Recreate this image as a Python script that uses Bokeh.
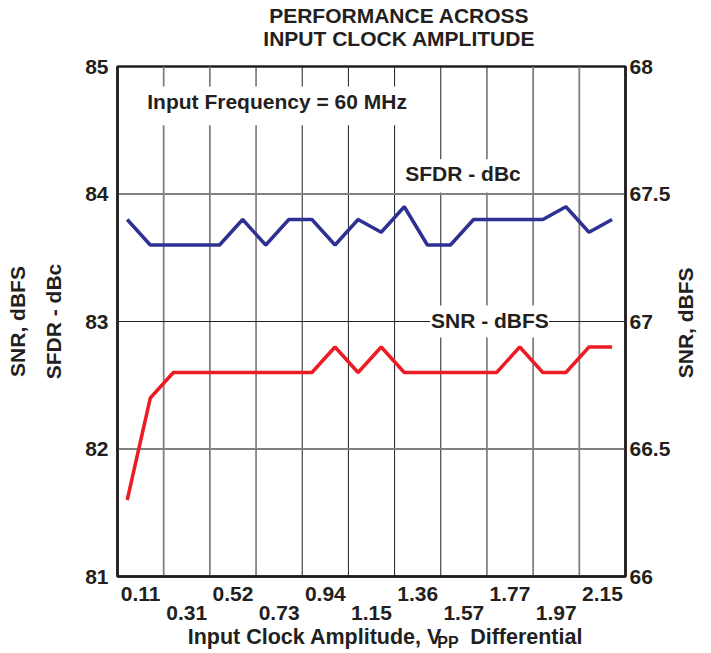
from math import pi
from bokeh.plotting import figure
from bokeh.models import (Range1d, LinearAxis, FixedTicker, Span, Label, BoxAnnotation)
from bokeh.embed import file_html
from bokeh.resources import INLINE

# ---------------- data ----------------
point_index = list(range(22))
sfdr_dbc = [83.8, 83.6, 83.6, 83.6, 83.6, 83.8, 83.6, 83.8, 83.8, 83.6, 83.8,
            83.7, 83.9, 83.6, 83.6, 83.8, 83.8, 83.8, 83.8, 83.9, 83.7, 83.8]
snr_dbfs = [66.3, 66.7, 66.8, 66.8, 66.8, 66.8, 66.8, 66.8, 66.8, 66.9, 66.8,
            66.9, 66.8, 66.8, 66.8, 66.8, 66.8, 66.9, 66.8, 66.8, 66.9, 66.9]
x_tick_labels = ["0.11", "0.31", "0.52", "0.73", "0.94", "1.15",
                 "1.36", "1.57", "1.77", "1.97", "2.15"]
left_ticks = [81, 82, 83, 84, 85]
right_ticks = [66, 66.5, 67, 67.5, 68]

# ---------------- layout helpers ----------------
FONT = "Liberation Sans"
INK = "#231f20"
BLUE = "#2e3192"
RED = "#ed1c24"
GRAY = "#808080"

XS, XE = -0.42, 21.58
YS, YE = 81, 85
L, R, T, B = 117, 629, 66, 578   # frame edges in page pixels
W, H = 711, 653


def X(px):
    return XS + (px - L) * (XE - XS) / (R - L)


def Y(py):
    return YE - (py - T) * (YE - YS) / (B - T)


p = figure(width=W, height=H, x_range=Range1d(XS, XE), y_range=Range1d(YS, YE),
           output_backend="svg", toolbar_location=None,
           min_border_left=L, min_border_right=W - R, min_border_top=T, min_border_bottom=H - B)
p.extra_y_ranges = {"snr": Range1d(66, 68)}
p.xgrid.visible = False
p.ygrid.visible = False
p.outline_line_color = INK
p.outline_line_width = 2.5
p.background_fill_color = "white"
p.border_fill_color = "white"

# the figure's own axes, taken before any other axis is added
bx = p.below[0]
ly = p.left[0]


def style_axis(ax, standoff, size="21px", line=True):
    ax.major_tick_in = 0
    ax.major_tick_out = 0
    ax.minor_tick_in = 0
    ax.minor_tick_out = 0
    if line:
        ax.axis_line_color = INK
        ax.axis_line_width = 2.5
    else:
        ax.axis_line_color = None
    ax.major_label_text_font = FONT
    ax.major_label_text_font_style = "bold"
    ax.major_label_text_font_size = size
    ax.major_label_text_color = INK
    ax.major_label_standoff = standoff
    ax.axis_label_text_font = FONT
    ax.axis_label_text_font_style = "bold"
    ax.axis_label_text_font_size = "21px"
    ax.axis_label_text_color = INK


def text_axis(loc, ticks, texts, standoff, size="21px", y_range_name=None, orientation=None):
    kw = {} if y_range_name is None else {"y_range_name": y_range_name}
    ax = LinearAxis(ticker=FixedTicker(ticks=ticks), **kw)
    ax.major_label_overrides = dict(zip(ticks, texts))
    style_axis(ax, standoff, size=size, line=False)
    if orientation is not None:
        ax.major_label_orientation = orientation
    p.add_layout(ax, loc)
    return ax


# ---- left axes ----
ly.ticker = FixedTicker(ticks=left_ticks)
style_axis(ly, 9)
ly.axis_label = "SFDR - dBc"
ly.axis_label_standoff = 17

ly2 = LinearAxis(ticker=FixedTicker(ticks=[]))
style_axis(ly2, 0, line=False)
ly2.axis_label = "SNR, dBFS"
ly2.axis_label_standoff = 11
p.add_layout(ly2, "left")

# ---- bottom: two staggered rows of tick labels ----
centres = [XS + 1 + 2 * i for i in range(len(x_tick_labels))]
bx.ticker = FixedTicker(ticks=[c for i, c in enumerate(centres) if i % 2 == 0])
bx.major_label_overrides = {c: x_tick_labels[i] for i, c in enumerate(centres) if i % 2 == 0}
style_axis(bx, 10)

text_axis("below", [c for i, c in enumerate(centres) if i % 2 == 1],
          [x_tick_labels[i] for i in range(len(x_tick_labels)) if i % 2 == 1], 2)

# ---- x axis title: "Input Clock Amplitude, V" + subscript "PP" + "Differential" ----
text_axis("below", [X(450)], ["PP"], 11, size="16px")
text_axis("below", [X(316), X(529)], ["Input Clock Amplitude, V", "Differential"], -29,
          size="21.5px")

# ---- two-line chart title (first added sits closest to the plot) ----
t_title = [X(401)]
text_axis("above", t_title, ["INPUT CLOCK AMPLITUDE"], 17)
text_axis("above", t_title, ["PERFORMANCE ACROSS"], -3)

# ---- right axes ----
ry = LinearAxis(y_range_name="snr", ticker=FixedTicker(ticks=right_ticks))
style_axis(ry, 4)
p.add_layout(ry, "right")
# right-hand title, reading bottom-to-top like the left ones
text_axis("right", [Y(379)], ["SNR, dBFS"], 12, orientation=pi / 2)

# ---- grid lines ----
for i in range(10):
    xb = XS + 2 * (i + 1)
    gray = i in (0, 1, 8, 9)
    p.add_layout(Span(location=xb, dimension="height", line_color=GRAY if gray else INK,
                      line_width=1.8 if gray else 1.0, level="underlay"))
for yv, gray in ((82, True), (83, False), (84, True)):
    p.add_layout(Span(location=yv, dimension="width", line_color=GRAY if gray else INK,
                      line_width=1.8 if gray else 1.0, level="underlay"))

# white boxes behind in-plot labels
for (x0, x1, y0, y1) in ((118.5, 420, 86, 125), (400, 528, 159, 192.5), (432, 552, 306, 338)):
    p.add_layout(BoxAnnotation(left=X(x0), right=X(x1), top=Y(y0), bottom=Y(y1),
                               fill_color="white", fill_alpha=1.0, line_color=None,
                               level="underlay"))

# ---- data lines ----
p.line(point_index, sfdr_dbc, line_color=BLUE, line_width=3.5)
p.line(point_index, snr_dbfs, line_color=RED, line_width=3.5, y_range_name="snr")


def lab(text, px, py):
    p.add_layout(Label(x=X(px), y=Y(py), text=text, text_font=FONT, text_font_style="bold",
                       text_font_size="21px", text_color=INK, text_align="left",
                       text_baseline="alphabetic"))


lab("Input Frequency = 60 MHz", 147, 101)
lab("SFDR - dBc", 407, 173.5)
lab("SNR - dBFS", 433, 321)

open("out.html", "w").write(file_html(p, INLINE))
